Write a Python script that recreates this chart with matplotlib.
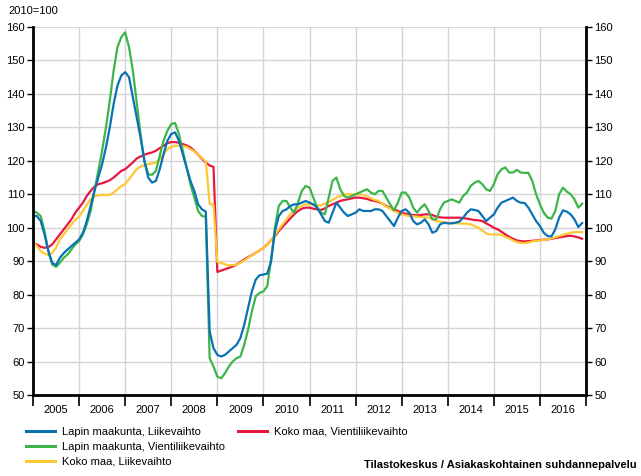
import matplotlib
matplotlib.use("Agg")
import matplotlib.pyplot as plt
from matplotlib.lines import Line2D
import numpy as np

plt.rcParams['font.family'] = ['Liberation Sans', 'DejaVu Sans']

years = list(range(2005, 2017))

# monthly index 2010=100, Jan 2005 .. Dec 2016
lappi_lv = [103.5, 103.5, 102, 98, 93, 89.5, 88.8, 91, 92.4, 93.5, 94.5, 95.5,
            96.5, 98.5, 102, 106.5, 111, 115, 119, 124, 130, 137, 142.5, 145.5,
            146.5, 145, 139, 133, 127, 120, 115, 113.5, 114, 117.5, 122, 126,
            128, 128.5, 126, 122, 118, 114, 111, 107, 105.5, 104.8, 69, 64,
            62, 61.5, 62, 63, 64, 65, 67, 71, 76, 81, 84.5, 85.8,
            86, 86.3, 90, 99, 103.5, 105, 105.5, 106.5, 107, 107, 107.5, 108,
            107.5, 107, 106, 104, 102, 101.5, 104.5, 107.5, 106, 104.5, 103.5, 104,
            104.5, 105.5, 105, 105, 105, 105.5, 105.5, 105, 103.5, 102, 100.5, 103,
            105, 105.5, 104.5, 102, 101, 101.5, 102.5, 101, 98.5, 99, 101, 101.5,
            101.3, 101.3, 101.5, 101.8, 103, 104.5, 105.5, 105.3, 105, 103.5, 102, 103,
            104, 106, 107.5, 108, 108.5, 109, 108, 107.5, 107.4, 106, 104, 102,
            100.5, 98.5, 97.5, 97.4, 99.5, 103, 105.2, 104.8, 104, 102.5, 100.2, 101.4]

lappi_vienti = [105, 104.5, 103.5, 99, 93, 89, 88.3, 89.5, 91, 92, 93.5, 95,
                96, 98, 101, 105, 111, 117, 123, 130, 138, 147, 154, 157,
                158.4, 154, 147, 137.5, 128, 120, 116, 115.8, 117, 121.5, 126, 129,
                131, 131.3, 128, 123, 118, 113, 109, 105, 103.5, 103.3, 61, 58.5,
                55.5, 55, 56.5, 58.5, 60, 61, 61.5, 65, 69.5, 75, 79.5, 80.5,
                81, 82.5, 90.5, 100, 106.5, 108, 108, 106, 104.5, 107.5, 111, 112.5,
                112, 109, 106, 104.5, 104, 109, 114, 115, 111.5, 109.5, 109, 109.5,
                110, 110.5, 111, 111.5, 110.5, 110, 111, 111, 109, 107, 105.2, 107.5,
                110.5, 110.5, 109, 106, 104.5, 106, 107, 105, 102.5, 102.5, 105.5, 107.5,
                108, 108.5, 108, 107.5, 109.5, 110.5, 112.5, 113.5, 114, 113, 111.5, 111,
                113, 116, 117.5, 118, 116.5, 116.5, 117.3, 116.5, 116.4, 116.4, 114, 110,
                107, 104.5, 103, 102.7, 105, 110, 112, 110.8, 110, 108.5, 106, 107.2]

koko_lv = [95.8, 94.5, 93, 92.3, 91.8, 92.5, 94, 96.5, 98, 99.5, 101, 102.3,
           103.3, 105, 106.8, 108.5, 109.3, 109.7, 109.8, 109.8, 109.8, 110.5, 111.5, 112.5,
           113, 114.5, 116, 117.5, 118.3, 118.7, 119, 119.2, 119.5, 120.5, 122, 123.5,
           124.2, 124.5, 124.5, 124.4, 124.2, 123.5, 122.8, 121.8, 120.8, 119.8, 107.2, 106.8,
           89.8, 89.5, 89, 88.8, 88.8, 89, 89.5, 90.2, 91, 91.8, 92.5, 93.2,
           94, 95, 96.3, 97.8, 99.5, 101, 102.5, 104, 105.2, 106, 106.5, 107,
           107, 106.8, 106.7, 106.7, 107.2, 107.7, 108.3, 109, 109.5, 110, 110, 110,
           110, 110, 109.8, 109.3, 108.8, 108.3, 108, 107.2, 106.3, 105.7, 105, 104.5,
           104, 103.7, 103.5, 103.4, 103.3, 103.2, 103.1, 103, 102.7, 102, 101.8, 101.6,
           101.5, 101.4, 101.3, 101.3, 101.2, 101.2, 101, 100.5, 100, 99.2, 98.3, 98,
           98, 98, 97.8, 97.3, 96.8, 96.2, 95.7, 95.5, 95.4, 95.6, 95.9, 96.1,
           96.2, 96.3, 96.5, 96.8, 97.1, 97.5, 97.9, 98.2, 98.5, 98.7, 98.7, 98.7]

koko_vienti = [95.4, 95, 94.3, 94, 94.2, 95, 96.5, 98, 99.5, 101, 102.5, 104.5,
               106, 107.5, 109.5, 111, 112.3, 113, 113.3, 113.7, 114.2, 115, 116, 117,
               117.5, 118.5, 119.5, 120.7, 121.3, 121.8, 122.2, 122.5, 123, 123.8, 124.5, 125.3,
               125.6, 125.6, 125.4, 125, 124.6, 124, 123, 121.8, 120.6, 119.5, 118.6, 118.2,
               86.8, 87.2, 87.6, 88, 88.4, 89, 89.7, 90.5, 91.2, 91.8, 92.5, 93.2,
               94, 95, 96.3, 97.5, 99, 100.3, 101.5, 102.8, 104, 105, 105.7, 106,
               106, 105.7, 105.5, 105.3, 105.8, 106.5, 107, 107.5, 108, 108.3, 108.5, 108.8,
               109, 109, 108.8, 108.6, 108.2, 108, 107.7, 107.2, 106.5, 106, 105.5, 105,
               104.5, 104.2, 104, 103.8, 103.7, 103.8, 104, 104, 103.8, 103.3, 103.1, 103,
               103, 103, 103, 103, 102.9, 102.7, 102.5, 102.3, 102.2, 102, 101.3, 100.7,
               100, 99.5, 98.8, 98, 97.3, 96.7, 96.2, 96, 95.9, 96, 96.1, 96.2,
               96.3, 96.4, 96.5, 96.7, 96.9, 97.1, 97.3, 97.5, 97.6, 97.4, 97.1, 96.7]

series = [
    ("Lapin maakunta, Liikevaihto", lappi_lv, "#0a72b4"),
    ("Lapin maakunta, Vientiliikevaihto", lappi_vienti, "#3cb54a"),
    ("Koko maa, Liikevaihto", koko_lv, "#fdc834"),
    ("Koko maa, Vientiliikevaihto", koko_vienti, "#e8173f"),
]

x = np.arange(len(lappi_lv)) / 12.0

fig = plt.figure(figsize=(6.41, 4.76), dpi=100)
ax = fig.add_axes([33 / 641, 1 - 395 / 476, (586 - 33) / 641, (395 - 27) / 476])

# red and yellow underneath, green and blue on top
for name, vals, col in [series[3], series[2], series[1], series[0]]:
    ax.plot(x, vals, color=col, lw=1.6, solid_joinstyle='round')

ax.set_xlim(0, 12)
ax.set_ylim(50, 160)
ax.set_yticks(range(50, 161, 10))
ax.set_xticks(range(0, 13))
ax.set_xticklabels([])
ax.set_xticks(np.arange(12) + 0.5, minor=True)
ax.set_xticklabels([str(y) for y in years], minor=True)
ax.tick_params(axis='x', which='minor', length=0, pad=7, labelsize=8)
ax.tick_params(axis='x', which='major', length=8, width=1.2, direction='out', color='black')
ax.tick_params(axis='y', which='both', left=True, right=True, labelleft=True, labelright=True,
               length=4, width=1, direction='out', labelsize=8, pad=2)

ax.grid(True, which='major', color='#d4d4d4', lw=1)
ax.set_axisbelow(True)
for s in ['left', 'right', 'bottom']:
    ax.spines[s].set_linewidth(2)
    ax.spines[s].set_color('black')
ax.spines['top'].set_visible(False)
ax.spines['bottom'].set_zorder(3)

fig.text(8 / 641, 1 - 11 / 476, "2010=100", fontsize=8, va='center', ha='left')

# legend, two columns
handles = [Line2D([], [], color=col, lw=2.2) for name, vals, col in series]
labels = [s[0] for s in series]
fig.legend(handles[:3], labels[:3], loc='upper left',
           bbox_to_anchor=(26 / 641, 1 - 427 / 476), frameon=False,
           fontsize=8, handlelength=2.6, handletextpad=0.6, labelspacing=0.45,
           borderaxespad=0, borderpad=0)
fig.legend(handles[3:], labels[3:], loc='upper left',
           bbox_to_anchor=(238 / 641, 1 - 427 / 476), frameon=False,
           fontsize=8, handlelength=2.6, handletextpad=0.6,
           borderaxespad=0, borderpad=0)

fig.text(637 / 641, 1 - 465 / 476, "Tilastokeskus / Asiakaskohtainen suhdannepalvelu",
         fontsize=8, fontweight='bold', ha='right', va='center')

fig.savefig("out.png", dpi=100)
